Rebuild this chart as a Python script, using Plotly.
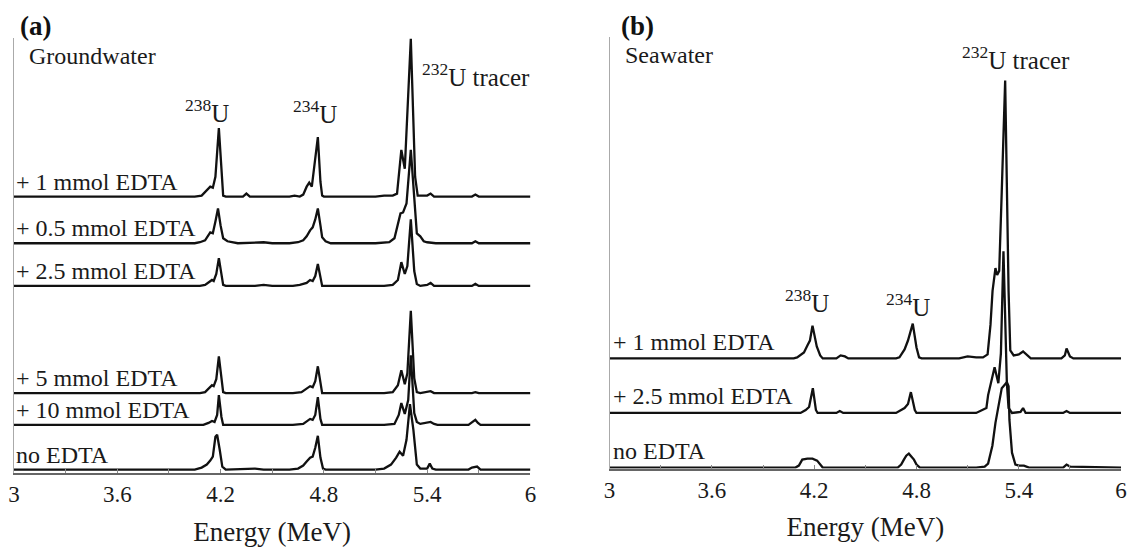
import plotly.graph_objects as go

# page body has an 8px margin: figure is sized/placed so target pixels land right
PAGE_OFF = 8
W, H = 1137 - PAGE_OFF, 547 - PAGE_OFF

# ---------------- Panel (a): Groundwater ----------------
labels_a = ["+ 1 mmol EDTA", "+ 0.5 mmol EDTA", "+ 2.5 mmol EDTA",
            "+ 5 mmol EDTA", "+ 10 mmol EDTA", "no EDTA"]
offsets_a = [278, 231, 188, 80, 48, 3]

E_a_1 = [3.0, 4.05, 4.09, 4.12, 4.14, 4.155, 4.17, 4.19, 4.205, 4.215, 4.23, 4.33, 4.35, 4.37,
         4.60, 4.63, 4.66, 4.68, 4.70, 4.715, 4.73, 4.765, 4.78, 4.79, 4.80, 5.10, 5.15, 5.20,
         5.225, 5.25, 5.27, 5.305, 5.33, 5.345, 5.40, 5.42, 5.44, 5.66, 5.68, 5.70, 6.0]
C_a_1 = [0, 0, 1, 6, 10, 9, 20, 69, 20, 1, 0, 0, 3, 0,
         0, 1, 0, 2, 10, 14, 10, 60, 15, 1, 0, 0, 1, 1,
         3, 47, 28, 159, 20, 1, 1, 3, 0, 0, 2, 0, 0]

E_a_05 = [3.0, 4.05, 4.08, 4.11, 4.14, 4.155, 4.17, 4.185, 4.20, 4.215, 4.24, 4.28, 4.30, 4.45,
          4.50, 4.60, 4.65, 4.68, 4.70, 4.72, 4.735, 4.75, 4.765, 4.78, 4.79, 4.81, 4.84, 5.10,
          5.18, 5.21, 5.23, 5.245, 5.26, 5.28, 5.305, 5.325, 5.34, 5.36, 5.38, 5.40, 5.45, 5.66,
          5.68, 5.70, 6.0]
C_a_05 = [0, 0, 1, 3, 11, 10, 22, 35, 18, 5, 2, 1, 0, 1,
          0, 0, 1, 3, 7, 13, 16, 24, 35, 18, 6, 2, 0, 0,
          1, 5, 18, 30, 31, 40, 94, 40, 10, 7, 2, 1, 0, 0,
          2, 0, 0]

E_a_25 = [3.0, 4.08, 4.11, 4.135, 4.15, 4.16, 4.175, 4.19, 4.205, 4.215, 4.23, 4.40, 4.45, 4.50,
          4.62, 4.66, 4.70, 4.72, 4.735, 4.75, 4.765, 4.78, 4.79, 5.15, 5.20, 5.23, 5.25, 5.27,
          5.285, 5.305, 5.325, 5.34, 5.36, 5.40, 5.42, 5.44, 5.66, 5.68, 5.70, 6.0]
C_a_25 = [0, 0, 1, 4, 6, 5, 12, 28, 10, 1, 0, 0, 1, 0,
          0, 1, 3, 6, 5, 10, 22, 8, 0, 0, 1, 6, 24, 12,
          20, 67, 15, 2, 0, 1, 3, 0, 0, 2, 0, 0]

E_a_5 = [3.0, 4.08, 4.11, 4.135, 4.15, 4.16, 4.175, 4.19, 4.205, 4.215, 4.23, 4.62, 4.67, 4.70,
         4.72, 4.735, 4.75, 4.765, 4.78, 4.79, 5.15, 5.20, 5.23, 5.25, 5.27, 5.285, 5.305, 5.325,
         5.34, 5.36, 5.42, 5.44, 5.66, 5.68, 5.70, 6.0]
C_a_5 = [0, 0, 1, 5, 8, 7, 14, 37, 12, 1, 0, 0, 1, 5,
         7, 6, 12, 27, 8, 0, 0, 1, 8, 23, 9, 20, 83, 15,
         1, 0, 2, 0, 0, 1, 0, 0]

E_a_10 = [3.0, 4.10, 4.13, 4.15, 4.165, 4.18, 4.19, 4.205, 4.215, 4.62, 4.68, 4.70, 4.72, 4.735,
          4.75, 4.765, 4.78, 4.79, 5.15, 5.21, 5.235, 5.25, 5.27, 5.29, 5.305, 5.325, 5.34, 5.36,
          5.40, 5.42, 5.44, 5.46, 5.64, 5.665, 5.68, 5.695, 5.71, 6.0]
C_a_10 = [0, 0, 2, 4, 3, 10, 30, 8, 0, 0, 1, 4, 6, 5,
          10, 28, 6, 0, 0, 1, 10, 22, 11, 25, 70, 12, 3, 1,
          2, 3, 1, 0, 0, 3, 5, 2, 0, 0]

E_a_0 = [3.0, 4.05, 4.09, 4.12, 4.14, 4.155, 4.17, 4.18, 4.195, 4.21, 4.23, 4.35, 4.40, 4.45,
         4.60, 4.65, 4.68, 4.70, 4.72, 4.735, 4.75, 4.765, 4.78, 4.795, 4.81, 5.10, 5.15, 5.19,
         5.22, 5.24, 5.26, 5.28, 5.30, 5.32, 5.34, 5.36, 5.40, 5.415, 5.43, 5.45, 5.64, 5.66,
         5.69, 5.71, 6.0]
C_a_0 = [0, 0, 2, 5, 9, 13, 33, 35, 20, 3, 0, 1, 1, 0,
         0, 1, 4, 8, 12, 13, 22, 34, 12, 1, 0, 0, 1, 5,
         12, 18, 14, 30, 66, 40, 5, 1, 1, 6, 1, 0, 0, 2,
         3, 0, 0]

# ---------------- Panel (b): Seawater ----------------
labels_b = ["+ 1 mmol EDTA", "+ 2.5 mmol EDTA", "no EDTA"]
offsets_b = [111, 56, 1]

E_b_1 = [3.0, 4.08, 4.10, 4.14, 4.16, 4.175, 4.19, 4.20, 4.215, 4.235, 4.25, 4.33, 4.355, 4.38,
         4.40, 4.68, 4.70, 4.73, 4.75, 4.778, 4.80, 4.815, 4.83, 5.05, 5.10, 5.15, 5.19, 5.217,
         5.234, 5.246, 5.263, 5.273, 5.285, 5.30, 5.32, 5.34, 5.35, 5.37, 5.40, 5.425, 5.45,
         5.47, 5.65, 5.67, 5.68, 5.70, 5.72, 6.0]
C_b_1 = [0, 0, 1, 6, 13, 18, 33, 25, 12, 3, 0, 0, 3, 2,
         0, 0, 1, 9, 18, 35, 11, 1, 0, 0, 2, 1, 1, 4,
         34, 68, 91, 84, 88, 168, 280, 68, 8, 3, 4, 7, 3,
         0, 0, 3, 10, 2, 0, 0]

E_b_25 = [3.0, 4.12, 4.15, 4.17, 4.192, 4.21, 4.22, 4.33, 4.35, 4.37, 4.68, 4.70, 4.73, 4.75,
          4.767, 4.79, 4.80, 5.15, 5.21, 5.22, 5.24, 5.258, 5.28, 5.295, 5.31, 5.33, 5.34, 5.36,
          5.41, 5.425, 5.44, 5.66, 5.68, 5.70, 6.0]
C_b_25 = [0, 0, 3, 6, 25, 3, 0, 0, 2, 0, 0, 2, 5, 9,
          21, 3, 0, 0, 5, 18, 32, 46, 30, 60, 163, 30, 5, 0,
          1, 5, 0, 0, 2, 0, 0]

E_b_0 = [3.0, 4.09, 4.11, 4.13, 4.16, 4.19, 4.217, 4.233, 4.25, 4.69, 4.71, 4.726, 4.74, 4.755,
         4.77, 4.785, 4.80, 4.82, 5.15, 5.20, 5.22, 5.245, 5.263, 5.28, 5.30, 5.32, 5.33, 5.34,
         5.345, 5.36, 5.38, 5.40, 5.43, 5.46, 5.66, 5.68, 5.70, 6.0]
C_b_0 = [0, 0, 2, 8, 9, 9, 7, 3, 0, 0, 3, 8, 12, 14,
         11, 8, 3, 0, 0, 1, 4, 22, 45, 62, 80, 84, 86, 82,
         48, 15, 3, 2, 2, 0, 0, 3, 1, 0]

series_a = [(E_a_1, C_a_1), (E_a_05, C_a_05), (E_a_25, C_a_25),
            (E_a_5, C_a_5), (E_a_10, C_a_10), (E_a_0, C_a_0)]
series_b = [(E_b_1, C_b_1), (E_b_25, C_b_25), (E_b_0, C_b_0)]

xticks = [3, 3.6, 4.2, 4.8, 5.4, 6]
xticktext = ["3", "3.6", "4.2", "4.8", "5.4", "6"]

FONT = "Liberation Serif, Times New Roman, serif"
INK = "#1a1a1a"
LINE = dict(color="#111111", width=2.3)

fig = go.Figure()
for (e, c), off, name in zip(series_a, offsets_a, labels_a):
    fig.add_trace(go.Scatter(x=e, y=[v + off for v in c], mode="lines", line=LINE,
                             name=name, xaxis="x", yaxis="y", showlegend=False))
for (e, c), off, name in zip(series_b, offsets_b, labels_b):
    fig.add_trace(go.Scatter(x=e, y=[v + off for v in c], mode="lines", line=LINE,
                             name=name, xaxis="x2", yaxis="y2", showlegend=False))

def px(x):
    return min(1.0, max(0.0, (x - PAGE_OFF) / W))

def py(y):
    return min(1.0, max(0.0, 1 - (y - PAGE_OFF) / H))

def xaxis_style(standoff):
    return dict(range=[3, 6], tickvals=xticks, ticktext=xticktext, showline=True,
                linecolor="#666666", linewidth=1.5, ticks="inside", ticklen=4,
                tickcolor="#888888",
                minor=dict(ticks="inside", ticklen=4, dtick=0.3, tick0=3, tickcolor="#888888"),
                showgrid=False, zeroline=False,
                tickfont=dict(family=FONT, size=23, color=INK),
                title=dict(text="Energy (MeV)", font=dict(family=FONT, size=27, color=INK),
                           standoff=standoff))

ya = dict(showline=True, linecolor="#aaaaaa", linewidth=1, showticklabels=False,
          ticks="", showgrid=False, zeroline=False)

fig.update_layout(
    width=W, height=H, margin=dict(l=0, r=0, t=0, b=0),
    paper_bgcolor="white", plot_bgcolor="white",
    xaxis=dict(domain=[px(8), px(530)], anchor="y", **xaxis_style(21)),
    yaxis=dict(domain=[py(476), py(38)], range=[0, 438], anchor="x", **ya),
    xaxis2=dict(domain=[px(610), px(1127)], anchor="y2", **xaxis_style(15)),
    yaxis2=dict(domain=[py(472), py(37)], range=[0, 435], anchor="x2", **ya),
)

ann = []
txt = dict(family=FONT, size=24, color=INK)
# curve labels
for off, name in zip(offsets_a, labels_a):
    ann.append(dict(x=3.0, y=off + 15, xref="x", yref="y", text=name, showarrow=False,
                    xanchor="left", yanchor="middle", font=txt))
for off, name in zip(offsets_b, labels_b):
    ann.append(dict(x=3.01, y=off + 17, xref="x2", yref="y2", text=name, showarrow=False,
                    xanchor="left", yanchor="middle", font=txt))
# peak labels
big = dict(family=FONT, size=25, color=INK)
mid = dict(family=FONT, size=24, color=INK)
ann += [
    dict(x=4.12, y=364, xref="x", yref="y", text="<sup>238</sup>U", showarrow=False,
         xanchor="center", yanchor="middle", font=big),
    dict(x=4.75, y=363, xref="x", yref="y", text="<sup>234</sup>U", showarrow=False,
         xanchor="center", yanchor="middle", font=big),
    dict(x=5.685, y=401, xref="x", yref="y", text="<sup>232</sup>U tracer", showarrow=False,
         xanchor="center", yanchor="middle", font=big),
    dict(x=4.16, y=169, xref="x2", yref="y2", text="<sup>238</sup>U", showarrow=False,
         xanchor="center", yanchor="middle", font=big),
    dict(x=4.75, y=165, xref="x2", yref="y2", text="<sup>234</sup>U", showarrow=False,
         xanchor="center", yanchor="middle", font=big),
    dict(x=5.385, y=414, xref="x2", yref="y2", text="<sup>232</sup>U tracer", showarrow=False,
         xanchor="center", yanchor="middle", font=big),
    dict(x=3.075, y=420, xref="x", yref="y", text="Groundwater", showarrow=False,
         xanchor="left", yanchor="middle", font=mid),
    dict(x=3.08, y=417, xref="x2", yref="y2", text="Seawater", showarrow=False,
         xanchor="left", yanchor="middle", font=mid),
    dict(x=px(30), y=py(26), xref="paper", yref="paper", text="<b>(a)</b>", showarrow=False,
         xanchor="center", yanchor="middle", font=dict(family=FONT, size=27, color="#111111")),
    dict(x=px(638), y=py(26), xref="paper", yref="paper", text="<b>(b)</b>", showarrow=False,
         xanchor="center", yanchor="middle", font=dict(family=FONT, size=27, color="#111111")),
]
fig.update_layout(annotations=ann)

fig.write_html("out.html")
